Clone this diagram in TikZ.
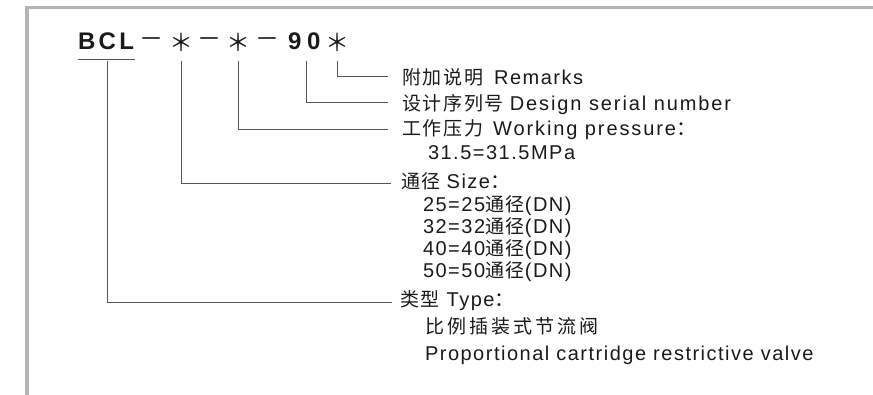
\documentclass[tikz,border=0pt]{standalone}
\usepackage{fontspec}
\setmainfont{Liberation Sans}
\newfontfamily\latfont[LetterSpace=7.5]{Liberation Sans}
\newfontfamily\latwide[LetterSpace=9.5]{Liberation Sans}
\newfontfamily\titlefont[LetterSpace=14]{Liberation Sans}
\newfontfamily\ninetyfont[LetterSpace=24]{Liberation Sans}
\newfontfamily\cjkfont[LetterSpace=9]{Noto Sans CJK SC}
\newfontfamily\cjkwide[LetterSpace=16]{Noto Sans CJK SC}
\newfontfamily\cjkplain{Noto Sans CJK SC}
\newcommand\entxt[1]{{\latfont\fontsize{20}{24}\selectfont #1}}
\newcommand\enwide[1]{{\latwide\fontsize{20}{24}\selectfont #1}}
\newcommand\zhtxt[1]{{\cjkfont\fontsize{19}{23}\selectfont #1}}
\newcommand\zhwide[1]{{\cjkwide\fontsize{19}{23}\selectfont #1}}
\newcommand\zhcolon{{\cjkplain\fontsize{20}{24}\selectfont ：}}
\definecolor{bordergray}{HTML}{B4B4B4}
\definecolor{linegray}{HTML}{555555}
\definecolor{txt}{HTML}{1A1A1A}
\tikzset{
  lbl/.style={anchor=base west, inner sep=0pt, outer sep=0pt, text=txt},
  ttl/.style={anchor=base west, inner sep=0pt, outer sep=0pt, text=txt,
    font=\titlefont\bfseries\fontsize{24}{28}\selectfont},
  sym/.style={inner sep=0pt, outer sep=0pt, text=txt,
    font=\cjkplain\fontsize{24}{28}\selectfont},
  conn/.style={draw=linegray, line width=0.8pt},
}
\begin{document}
\begin{tikzpicture}[x=1pt, y=-1pt]
\useasboundingbox (0,0) rectangle (873,395);
% frame
\fill[bordergray] (25,6) rectangle (873,9);
\fill[bordergray] (25,6) rectangle (29,395);
% title
\node[ttl] (bcl) at (78,50) {BCL};
\node[sym] (d1) at (151,43) {－};
\node[sym] (s1) at (181,42) {＊};
\node[sym] (d2) at (209,43) {－};
\node[sym] (s2) at (238,42) {＊};
\node[sym] (d3) at (267,43) {－};
\node[ttl, font=\ninetyfont\bfseries\fontsize{24}{28}\selectfont] (n90) at (288,50) {90};
\node[sym] (s3) at (337,42) {＊};
\draw[draw=linegray, line width=0.8pt] (bcl.south west) ++(0,9) coordinate (ul1) -- ++(57,0) coordinate (ul2);
% labels
\node[lbl] (rem) at (402,85) {\zhtxt{附加说明}\hspace{11pt}\entxt{Remarks}};
\node[lbl] (des) at (402,111) {\zhtxt{设计序列号}\hspace{6pt}\enwide{Design serial number}};
\node[lbl] (wrk) at (402,136) {\zhtxt{工作压力}\hspace{10pt}\enwide{Working pressure}\zhcolon};
\node[lbl] (mpa) at (428,160) {\entxt{31.5=31.5MPa}};
\node[lbl] (siz) at (401,189) {\zhtxt{通径}\hspace{6pt}\entxt{Size}\zhcolon};
\node[lbl] (dn25) at (423,212) {\entxt{25=25}\zhtxt{通径}\entxt{(DN)}};
\node[lbl] (dn32) at (423,234) {\entxt{32=32}\zhtxt{通径}\entxt{(DN)}};
\node[lbl] (dn40) at (423,256) {\entxt{40=40}\zhtxt{通径}\entxt{(DN)}};
\node[lbl] (dn50) at (423,278) {\entxt{50=50}\zhtxt{通径}\entxt{(DN)}};
\node[lbl] (typ) at (400,307) {\zhtxt{类型}\hspace{7pt}\entxt{Type}\zhcolon};
\node[lbl] (cn) at (425,334) {\zhwide{比例插装式节流阀}};
\node[lbl] (en) at (425,360) {\entxt{Proportional cartridge restrictive valve}};
% connector ends
\coordinate (top) at (0,61);
\coordinate (erem) at (388,76);
\coordinate (edes) at (388,102);
\coordinate (ewrk) at (388,129);
\coordinate (esiz) at (391,183);
\coordinate (etyp) at (392,302);
\draw[conn] (s3.center |- top) |- (erem);
\draw[conn] ([xshift=2pt]n90.center |- top) |- (edes);
\draw[conn] (s2.center |- top) |- (ewrk);
\draw[conn] (s1.center |- top) |- (esiz);
\draw[conn] ([xshift=1pt]bcl.center |- top) |- (etyp);
\end{tikzpicture}
\end{document}
